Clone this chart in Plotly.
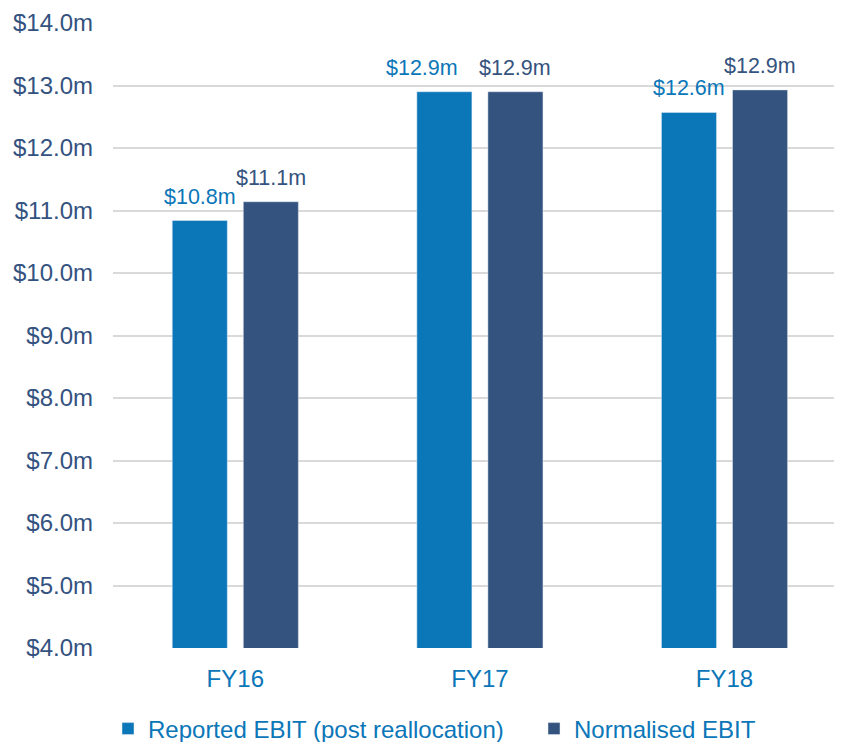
import plotly.graph_objects as go

COLOR_REPORTED = "#0B76B8"
COLOR_NORMALISED = "#34537E"
COLOR_AXIS_TEXT = "#34527F"
COLOR_GRID = "#D9D9D9"
FONT = "Arial, Liberation Sans, sans-serif"

years = ["FY16", "FY17", "FY18"]
reported = [10.84, 12.9, 12.57]
normalised = [11.14, 12.9, 12.93]
series_names = ["Reported EBIT (post reallocation)", "Normalised EBIT"]

fig = go.Figure()
fig.add_trace(go.Bar(x=years, y=reported, name=series_names[0], showlegend=True,
                     marker=dict(color=COLOR_REPORTED), legend="legend"))
fig.add_trace(go.Bar(x=years, y=normalised, name=series_names[1], showlegend=True,
                     marker=dict(color=COLOR_NORMALISED), legend="legend2"))

# value labels above bars (FY17 reported label nudged left so it doesn't collide)
label_nudge = {("r", "FY17"): -22}
annotations = []
for key, vals, shift, color in [("r", reported, -35.5, COLOR_REPORTED),
                                ("n", normalised, 35.5, COLOR_NORMALISED)]:
    for yr, v in zip(years, vals):
        annotations.append(dict(
            x=yr, y=v, xref="x", yref="y", text=f"${v:.1f}m",
            showarrow=False, xshift=shift + label_nudge.get((key, yr), 0),
            yshift=10, yanchor="bottom",
            font=dict(family=FONT, size=21.5, color=color),
        ))

legend_common = dict(
    orientation="h",
    xref="container",
    yref="container",
    xanchor="left",
    y=21 / 742,
    yanchor="middle",
    font=dict(family=FONT, size=24, color=COLOR_REPORTED),
)

fig.update_layout(
    width=842,
    height=742,
    showlegend=True,
    barmode="group",
    bargap=0.419,
    bargroupgap=0.225,
    margin=dict(l=105, r=0, t=15, b=102),
    plot_bgcolor="white",
    paper_bgcolor="white",
    font=dict(family=FONT),
    annotations=annotations,
    xaxis=dict(
        range=[-0.5, 2.513],
        showgrid=False,
        showline=False,
        ticks="",
        ticklabelstandoff=14,
        tickfont=dict(family=FONT, size=24, color=COLOR_REPORTED),
    ),
    yaxis=dict(
        range=[4, 14],
        dtick=1,
        tickprefix="$",
        tickformat=".1f",
        ticksuffix="m",
        showgrid=True,
        gridcolor=COLOR_GRID,
        gridwidth=2,
        zeroline=False,
        showline=False,
        ticks="",
        ticklabelstandoff=19,
        tickfont=dict(family=FONT, size=24, color=COLOR_AXIS_TEXT),
    ),
    legend=dict(x=100 / 842, **legend_common),
    legend2=dict(x=526 / 842, **legend_common),
)

fig.write_html("out.html")
